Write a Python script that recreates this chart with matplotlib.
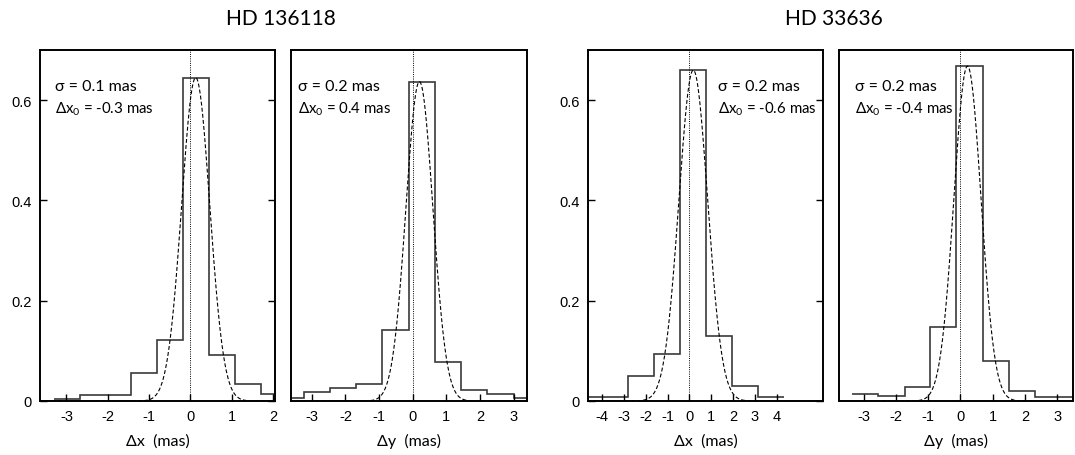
import numpy as np
import matplotlib
matplotlib.use("Agg")
import matplotlib.pyplot as plt

plt.rcParams["mathtext.fontset"] = "custom"
plt.rcParams["mathtext.rm"] = "Lato"
plt.rcParams["mathtext.it"] = "Lato:italic"

# ---- data -------------------------------------------------------------
titles = ["HD 136118", "HD 33636"]
xlabels = ["\u0394x  (mas)", "\u0394y  (mas)", "\u0394x  (mas)", "\u0394y  (mas)"]

# histogram bin edges and normalised heights for each panel
edges_1 = [-3.30, -2.675, -2.05, -1.425, -0.80, -0.175, 0.45, 1.075, 1.70, 2.325]
heights_1 = [0.003, 0.012, 0.012, 0.055, 0.122, 0.645, 0.091, 0.033, 0.014]

edges_2 = [-4.02, -3.24, -2.46, -1.68, -0.90, -0.12, 0.66, 1.44, 2.22, 3.00, 3.78]
heights_2 = [0.005, 0.017, 0.025, 0.033, 0.142, 0.637, 0.078, 0.022, 0.014, 0.005]

edges_3 = [-5.22, -4.025, -2.83, -1.635, -0.44, 0.755, 1.95, 3.145, 4.34]
heights_3 = [0.007, 0.007, 0.050, 0.094, 0.660, 0.130, 0.030, 0.007]

edges_4 = [-3.35, -2.54, -1.73, -0.93, -0.12, 0.69, 1.50, 2.31, 3.12, 3.93]
heights_4 = [0.013, 0.010, 0.027, 0.148, 0.668, 0.080, 0.020, 0.007, 0.007]

# fitted gaussians: centre, width, amplitude
gauss_1 = (0.13, 0.34, 0.645)
gauss_2 = (0.20, 0.40, 0.637)
gauss_3 = (0.18, 0.66, 0.660)
gauss_4 = (0.22, 0.42, 0.668)

sigma_labels = ["\u03c3 = 0.1 mas", "\u03c3 = 0.2 mas", "\u03c3 = 0.2 mas", "\u03c3 = 0.2 mas"]
offset_labels = ["\u0394x$_\\mathrm{0}$ = -0.3 mas", "\u0394x$_\\mathrm{0}$ = 0.4 mas",
                 "\u0394x$_\\mathrm{0}$ = -0.6 mas", "\u0394x$_\\mathrm{0}$ = -0.4 mas"]

xlims = [(-3.64, 2.05), (-3.62, 3.40), (-4.65, 6.13), (-3.76, 3.49)]
xticks = [[-3, -2, -1, 0, 1, 2], [-3, -2, -1, 0, 1, 2, 3],
          [-4, -3, -2, -1, 0, 1, 2, 3, 4], [-3, -2, -1, 0, 1, 2, 3]]
yticks = [0, 0.2, 0.4, 0.6]
ytick_labels = ["0", "0.2", "0.4", "0.6"]

edges = [edges_1, edges_2, edges_3, edges_4]
heights = [heights_1, heights_2, heights_3, heights_4]
gausses = [gauss_1, gauss_2, gauss_3, gauss_4]

# ---- layout -----------------------------------------------------------
W, H = 1075, 456
fig = plt.figure(figsize=(W / 100, H / 100), dpi=100)
panel_px = [(40, 275), (291, 527), (588, 823), (839, 1073)]
top_px, bot_px = 51, 402
text_x_px = [55, 298, 718, 855]

label_font = "Lato"
tick_font = "Liberation Sans"

axes = []
for i, (l, r) in enumerate(panel_px):
    ax = fig.add_axes([l / W, 1 - bot_px / H, (r - l) / W, (bot_px - top_px) / H])
    axes.append(ax)
    e = np.array(edges[i])
    h = np.array(heights[i])
    ax.stairs(h, e, color="#3a3a3a", lw=1.2, baseline=None)
    mu, s, a = gausses[i]
    xs = np.linspace(xlims[i][0], xlims[i][1], 600)
    ax.plot(xs, a * np.exp(-0.5 * ((xs - mu) / s) ** 2), ls=(0, (3.5, 2)),
            color="black", lw=0.8)
    ax.axvline(0, color="black", lw=0.7, ls=(0, (1, 1.3)))
    ax.set_xlim(*xlims[i])
    ax.set_ylim(0, 0.7)
    ax.set_xticks(xticks[i])
    ax.set_xticklabels([str(t) for t in xticks[i]], family=tick_font, fontsize=10.5)
    ax.tick_params(axis="x", direction="in", length=5, width=1, pad=6, top=False)
    if i in (0, 2):
        ax.set_yticks(yticks)
        ax.set_yticklabels(ytick_labels, family=tick_font, fontsize=10.5)
        ax.tick_params(axis="y", direction="in", length=5, width=1, right=True,
                       left=True, pad=6)
    else:
        ax.set_yticks([])
    for sp in ax.spines.values():
        sp.set_linewidth(1.4)
    ax.set_xlabel(xlabels[i], family=label_font, fontsize=11.5, labelpad=7)
    tx = (text_x_px[i] - l) / (r - l)
    ax.text(tx, 1 - (87 - top_px) / (bot_px - top_px), sigma_labels[i],
            transform=ax.transAxes, family=label_font, fontsize=11.5,
            va="center", ha="left")
    ax.text(tx, 1 - (109 - top_px) / (bot_px - top_px), offset_labels[i],
            transform=ax.transAxes, family=label_font, fontsize=10.8,
            va="center", ha="left")

fig.text(281 / W, 1 - 19 / H, titles[0], ha="center", va="center",
         family=label_font, fontsize=15)
fig.text(834 / W, 1 - 19 / H, titles[1], ha="center", va="center",
         family=label_font, fontsize=15)

fig.savefig("out.png", dpi=100)
